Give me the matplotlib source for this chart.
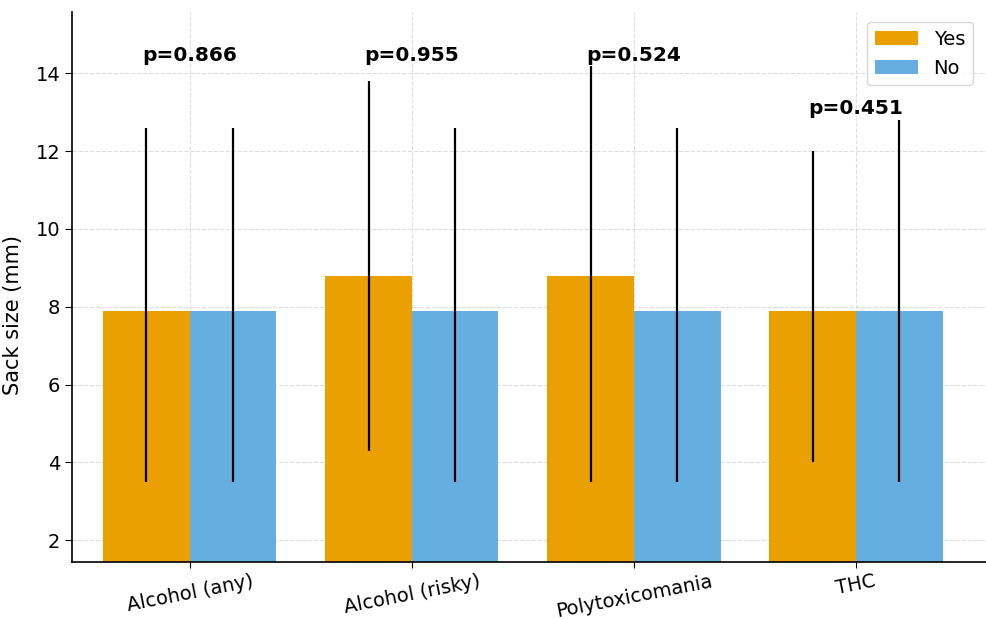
import matplotlib.pyplot as plt
import numpy as np

categories = ["Alcohol (any)", "Alcohol (risky)", "Polytoxicomania", "THC"]
yes_mean = [7.9, 8.8, 8.8, 7.9]
no_mean = [7.9, 7.9, 7.9, 7.9]
yes_low = [3.5, 4.3, 3.5, 4.0]
yes_high = [12.6, 13.8, 14.2, 12.0]
no_low = [3.5, 3.5, 3.5, 3.5]
no_high = [12.6, 12.6, 12.6, 12.8]
p_values = ["p=0.866", "p=0.955", "p=0.524", "p=0.451"]
p_y = [14.45, 14.45, 14.45, 13.1]

yes_col = "#E9A000"
no_col = "#66AEDF"
w = 0.39

fig = plt.figure(figsize=(9.87, 6.19), dpi=100)
ax = fig.add_axes([0.073, 0.092, 0.927, 0.888])

x = np.arange(len(categories))
ym = np.array(yes_mean)
nm = np.array(no_mean)
yerr_yes = [ym - np.array(yes_low), np.array(yes_high) - ym]
yerr_no = [nm - np.array(no_low), np.array(no_high) - nm]

ax.bar(x - w/2, ym, w, color=yes_col, label="Yes", zorder=2)
ax.bar(x + w/2, nm, w, color=no_col, label="No", zorder=2)
ax.errorbar(x - w/2, ym, yerr=yerr_yes, fmt="none", ecolor="black", elinewidth=1.6, capsize=0, zorder=3)
ax.errorbar(x + w/2, nm, yerr=yerr_no, fmt="none", ecolor="black", elinewidth=1.6, capsize=0, zorder=3)

for xi, txt, yy in zip(x, p_values, p_y):
    ax.text(xi, yy, txt, ha="center", va="center", fontsize=14.5, fontweight="bold",
            family="DejaVu Sans", zorder=4)

ax.set_xlim(-0.53, 3.59)
ax.set_ylim(1.435, 15.57)
ax.set_yticks([2, 4, 6, 8, 10, 12, 14])
ax.set_xticks(x)
ax.set_xticklabels(categories, rotation=11, ha="center", fontsize=14)
ax.tick_params(axis="x", pad=3, length=4)
ax.tick_params(axis="y", labelsize=14, length=5)
ax.set_ylabel("Sack size (mm)", fontsize=15)
ax.yaxis.set_label_coords(-0.054, 0.45)

ax.grid(True, linestyle="--", color="#dddddd", linewidth=0.8, zorder=0)
ax.set_axisbelow(True)
for s in ["top", "right"]:
    ax.spines[s].set_visible(False)
ax.spines["left"].set_linewidth(1.2)
ax.spines["bottom"].set_linewidth(1.2)

ax.legend(loc="upper right", fontsize=14, frameon=True, handlelength=2.2,
          bbox_to_anchor=(0.995, 1.0))

fig.savefig("out.png", dpi=100)
